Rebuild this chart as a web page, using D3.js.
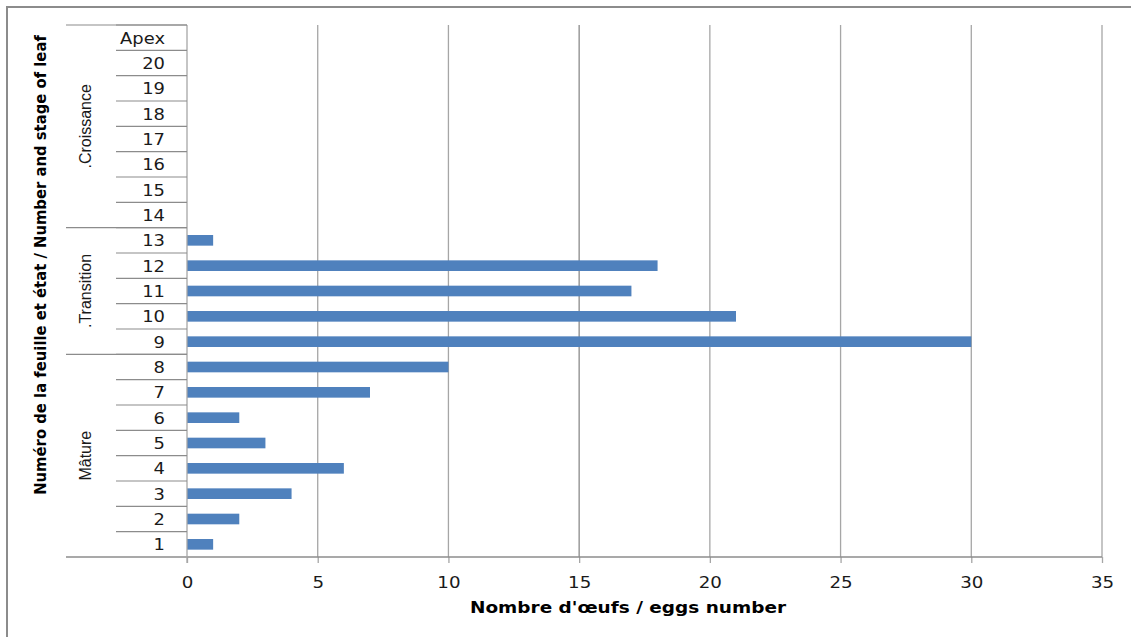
<!DOCTYPE html>
<html>
<head>
<meta charset="utf-8">
<script src="https://cdn.jsdelivr.net/npm/d3@7"></script>
<style>
  html, body { margin: 0; padding: 0; background: #fff; }
  svg { display: block; }
</style>
</head>
<body>
<svg id="chart" width="1131" height="637"></svg>
<script>
// Leaf numbers, bottom to top
const leaves = ["1","2","3","4","5","6","7","8","9","10","11","12","13","14","15","16","17","18","19","20","Apex"];
// Eggs counted on each leaf
const eggs = [1, 2, 4, 6, 3, 2, 7, 10, 30, 21, 17, 18, 1, 0, 0, 0, 0, 0, 0, 0, 0];
// Leaf stage groups (first and last leaf of each group)
const stages = [
  { name: "Mâture", from: "1", to: "8" },
  { name: ".Transition", from: "9", to: "13" },
  { name: ".Croissance", from: "14", to: "Apex" }
];
const xTicks = [0, 5, 10, 15, 20, 25, 30, 35];

(function () {
  const svg = d3.select("#chart");
  const font = "'DejaVu Sans', Verdana, sans-serif";
  const labelFont = "'Liberation Sans', Arial, sans-serif";
  const titleFont = "'Liberation Sans Narrow', 'DejaVu Sans Condensed', 'Liberation Sans', sans-serif";

  const plotLeft = 187, plotRight = 1102, plotTop = 25, plotBottom = 557;

  // frame around the chart area
  svg.append("path")
    .attr("d", "M7,640 V7 H1135")
    .attr("fill", "none").attr("stroke", "#8c8c8c").attr("stroke-width", 2);

  const x = d3.scaleLinear().domain([0, 35]).range([plotLeft, plotRight]);
  const y = d3.scaleBand().domain(leaves).range([plotBottom, plotTop]).paddingInner(0.58).paddingOuter(0.29);
  const band = d3.scaleBand().domain(leaves).range([plotBottom, plotTop]);

  // vertical gridlines
  svg.append("g").selectAll("line").data(xTicks.slice(1)).join("line")
    .attr("x1", d => x(d)).attr("x2", d => x(d))
    .attr("y1", plotTop).attr("y2", plotBottom)
    .attr("stroke", d => d === 15 ? "#8a8a8a" : "#a6a6a6").attr("stroke-width", 1.3);

  // bars
  svg.append("g").selectAll("rect")
    .data(leaves.map((l, i) => ({ l, v: eggs[i] })).filter(d => d.v > 0)).join("rect")
    .attr("x", x(0)).attr("y", d => y(d.l))
    .attr("width", d => x(d.v) - x(0)).attr("height", y.bandwidth())
    .attr("fill", "#4f81bd");

  // x axis
  const xAxis = svg.append("g").attr("transform", `translate(0,${plotBottom})`)
    .call(d3.axisBottom(x).tickValues(xTicks).tickSize(6).tickPadding(15).tickSizeOuter(0));
  xAxis.select(".domain").remove();
  xAxis.selectAll(".tick line").attr("stroke", "#a6a6a6").attr("stroke-width", 1.3);
  xAxis.selectAll(".tick text")
    .attr("font-family", font).attr("font-size", 16).attr("fill", "#1a1a1a")
    .attr("y", 0).attr("dy", null)
    .attr("transform", "translate(0,31) scale(1.14,1)");

  // horizontal base line
  svg.append("line").attr("x1", 66).attr("x2", plotRight).attr("y1", plotBottom).attr("y2", plotBottom)
    .attr("stroke", "#8c8c8c").attr("stroke-width", 1.3);
  // vertical category axis line
  svg.append("line").attr("x1", plotLeft).attr("x2", plotLeft).attr("y1", plotTop).attr("y2", plotBottom + 6)
    .attr("stroke", "#a6a6a6").attr("stroke-width", 1.3);

  // category axis: separators between leaves
  svg.append("g").selectAll("line").data(leaves).join("line")
    .attr("x1", 116).attr("x2", plotLeft).attr("y1", d => band(d)).attr("y2", d => band(d))
    .attr("stroke", "#8c8c8c").attr("stroke-width", 1.2);

  // leaf labels
  svg.append("g").selectAll("text").data(leaves).join("text")
    .attr("transform", d => `translate(165,${band(d) + band.bandwidth() / 2 + 6}) scale(1.12,1)`)
    .attr("text-anchor", "end")
    .attr("font-family", font).attr("font-size", 16).attr("fill", "#1a1a1a")
    .text(d => d);

  // stage group separators and labels
  const groupTop = s => band(s.to);
  const groupBottom = s => band(s.from) + band.bandwidth();
  svg.append("g").selectAll("line").data(stages).join("line")
    .attr("x1", 66).attr("x2", plotLeft).attr("y1", d => groupTop(d)).attr("y2", d => groupTop(d))
    .attr("stroke", "#8c8c8c").attr("stroke-width", 1.2);

  svg.append("g").selectAll("text").data(stages).join("text")
    .attr("transform", d => `translate(91,${(groupTop(d) + groupBottom(d)) / 2}) rotate(-90)`)
    .attr("text-anchor", "middle")
    .attr("font-family", labelFont).attr("font-size", 16).attr("fill", "#1a1a1a")
    .text(d => d.name);

  // vertical axis title, sized so it spans the category axis
  const yTitle = svg.append("text")
    .attr("transform", "translate(46,265) rotate(-90)")
    .attr("text-anchor", "middle")
    .attr("font-family", titleFont).attr("font-size", 18).attr("font-weight", "bold").attr("fill", "#000")
    .text("Numéro de la feuille et état / Number and stage of leaf");
  const natural = yTitle.node().getComputedTextLength();
  if (natural > 0) yTitle.attr("font-size", Math.min(19, 18 * 460 / natural));

  svg.append("text")
    .attr("x", 628).attr("y", 613)
    .attr("text-anchor", "middle")
    .attr("font-family", font).attr("font-size", 15).attr("font-weight", "bold").attr("fill", "#000")
    .attr("textLength", 316).attr("lengthAdjust", "spacingAndGlyphs")
    .text("Nombre d'œufs / eggs number");
})();
</script>
</body>
</html>
